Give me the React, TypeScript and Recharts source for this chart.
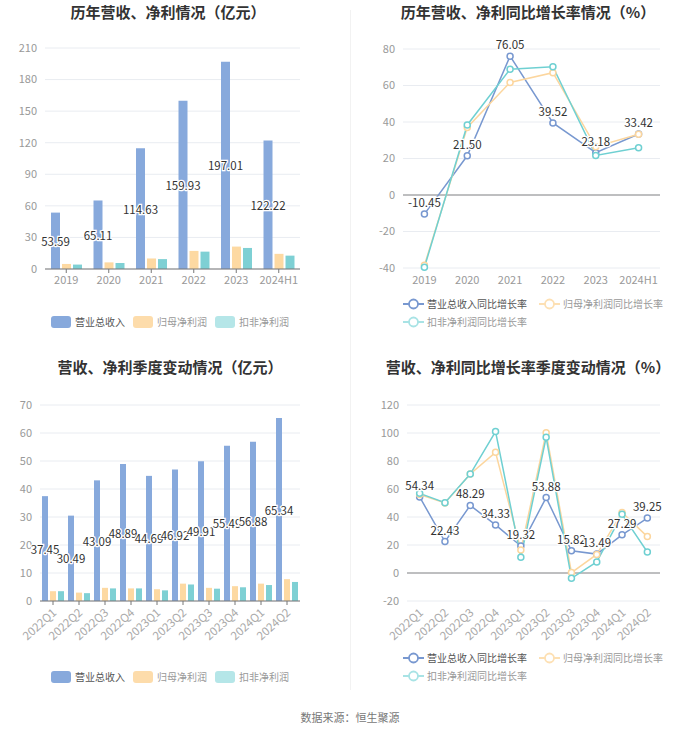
import React from 'react';
import { BarChart, Bar, LineChart, Line, XAxis, YAxis, CartesianGrid, ReferenceLine, LabelList } from 'recharts';

const years = ['2019', '2020', '2021', '2022', '2023', '2024H1'];
const yearRevenue = [53.59, 65.11, 114.63, 159.93, 197.01, 122.22];
const yearNetProfit = [4.8, 6.3, 10.0, 17.2, 21.3, 14.4];
const yearDeductedProfit = [4.2, 5.7, 9.4, 16.5, 20.0, 12.7];
const yearTicks = [0, 30, 60, 90, 120, 150, 180, 210];

const yearRevenueGrowth = [-10.45, 21.5, 76.05, 39.52, 23.18, 33.42];
const yearNetProfitGrowth = [-38.5, 37.0, 61.7, 67.0, 26.5, 33.3];
const yearDeductedGrowth = [-39.6, 38.4, 68.9, 70.3, 21.7, 25.9];
const yearGrowthTicks = [-40, -20, 0, 20, 40, 60, 80];

const quarters = ['2022Q1', '2022Q2', '2022Q3', '2022Q4', '2023Q1', '2023Q2', '2023Q3', '2023Q4', '2024Q1', '2024Q2'];
const qRevenue = [37.45, 30.49, 43.09, 48.89, 44.69, 46.92, 49.91, 55.49, 56.88, 65.34];
const qNetProfit = [3.5, 3.0, 4.7, 4.5, 4.2, 6.2, 4.7, 5.3, 6.2, 7.8];
const qDeductedProfit = [3.5, 2.8, 4.5, 4.5, 3.8, 5.9, 4.4, 4.9, 5.7, 6.8];
const qTicks = [0, 10, 20, 30, 40, 50, 60, 70];

const qRevenueGrowth = [54.34, 22.43, 48.29, 34.33, 19.32, 53.88, 15.82, 13.49, 27.29, 39.25];
const qNetProfitGrowth = [56.0, 50.0, 70.7, 86.2, 16.4, 100.2, 0.3, 13.3, 43.3, 26.0];
const qDeductedGrowth = [56.9, 50.2, 70.7, 101.0, 11.2, 96.9, -3.8, 7.9, 41.9, 15.0];
const qGrowthTicks = [-20, 0, 20, 40, 60, 80, 100, 120];

const barNames = ['营业总收入', '归母净利润', '扣非净利润'];
const lineNames = ['营业总收入同比增长率', '归母净利润同比增长率', '扣非净利润同比增长率'];

const FONT = "'Noto Sans CJK SC', 'Noto Sans', sans-serif";
const BLUE = '#87a9dc';
const ORANGE = '#fdd9a2';
const TEAL = '#7ed0d4';
const LBLUE = '#7898d0';
const LORANGE = '#fcd69e';
const LTEAL = '#6fd0d2';

const yearBars = years.map((c, i) => ({ cat: c, rev: yearRevenue[i], net: yearNetProfit[i], ded: yearDeductedProfit[i] }));
const yearLines = years.map((c, i) => ({ cat: c, rev: yearRevenueGrowth[i], net: yearNetProfitGrowth[i], ded: yearDeductedGrowth[i] }));
const qBars = quarters.map((c, i) => ({ cat: c, rev: qRevenue[i], net: qNetProfit[i], ded: qDeductedProfit[i] }));
const qLines = quarters.map((c, i) => ({ cat: c, rev: qRevenueGrowth[i], net: qNetProfitGrowth[i], ded: qDeductedGrowth[i] }));

const tickStyle = { fill: '#999', fontSize: 11, fontFamily: FONT };

const BarLabel = (props: any) => {
  const { x, y, width, height, value } = props;
  return (
    <text x={x + width / 2} y={y + height / 2} textAnchor="middle" dominantBaseline="central"
      fill="#333" stroke="#fff" strokeWidth={2.5} paintOrder="stroke" fontSize={11.5} fontFamily={FONT}>
      {Number(value).toFixed(2)}
    </text>
  );
};

const PointLabel = (props: any) => {
  const { x, y, value } = props;
  return (
    <text x={x} y={y - 12} textAnchor="middle" dominantBaseline="central"
      fill="#333" stroke="#fff" strokeWidth={2.5} paintOrder="stroke" fontSize={11.5} fontFamily={FONT}>
      {Number(value).toFixed(2)}
    </text>
  );
};

const makeRotTick = (dx: number, dy: number) => (props: any) => {
  const { x, y, payload } = props;
  return (
    <text transform={`translate(${x + dx},${y + dy}) rotate(-42)`} textAnchor="end" dominantBaseline="central"
      fill="#aaa" fontSize={11.5} fontFamily={FONT}>
      {payload.value}
    </text>
  );
};
const BarRotTick = makeRotTick(1, 5);
const LineRotTick = makeRotTick(1, 9);

const Title = ({ text, left, top, width }: any) => (
  <div style={{ position: 'absolute', left, top, width, textAlign: 'center', fontFamily: FONT, fontWeight: 700, fontSize: 15, color: '#333', lineHeight: '20px' }}>{text}</div>
);

const BarLegend = ({ left, top }: any) => {
  const cols = [BLUE, '#fddcab', '#b5e6e8'];
  const tc = ['#555', '#999', '#999'];
  return (
    <div style={{ position: 'absolute', left, top, display: 'flex', alignItems: 'center', fontFamily: FONT, fontSize: 10 }}>
      {barNames.map((n, i) => (
        <div key={n} style={{ display: 'flex', alignItems: 'center', marginRight: 8 }}>
          <div style={{ width: 20, height: 12, borderRadius: 3, background: cols[i], marginRight: 4 }} />
          <span style={{ color: tc[i], lineHeight: '14px' }}>{n}</span>
        </div>
      ))}
    </div>
  );
};

const LegendIcon = ({ color }: any) => (
  <svg width={21} height={14} style={{ marginRight: 3 }}>
    <line x1={0} y1={7} x2={21} y2={7} stroke={color} strokeWidth={2} />
    <circle cx={10.5} cy={7} r={4.5} fill="#fff" stroke={color} strokeWidth={1.8} />
  </svg>
);

const LineLegend = ({ left, top }: any) => {
  const cols = [LBLUE, '#fde0b3', '#a8e3e5'];
  const tc = ['#555', '#999', '#999'];
  const item = (i: number) => (
    <div style={{ display: 'flex', alignItems: 'center', marginRight: 12 }}>
      <LegendIcon color={cols[i]} />
      <span style={{ color: tc[i], lineHeight: '14px' }}>{lineNames[i]}</span>
    </div>
  );
  return (
    <div style={{ position: 'absolute', left, top, fontFamily: FONT, fontSize: 10 }}>
      <div style={{ display: 'flex', alignItems: 'center', height: 18 }}>{item(0)}{item(1)}</div>
      <div style={{ display: 'flex', alignItems: 'center', height: 18 }}>{item(2)}</div>
    </div>
  );
};

const dot = (color: string) => ({ r: 3, fill: '#fff', stroke: color, strokeWidth: 1.5 });

export default function App() {
  return (
    <div style={{ position: 'absolute', left: 0, top: 0, width: 700, height: 734, background: '#fff', overflow: 'hidden' }}>
      <div style={{ position: 'absolute', left: 350, top: 10, width: 1, height: 680, background: '#f2f2f2' }} />

      <Title text="历年营收、净利情况（亿元）" left={0} top={2} width={336} />
      <div style={{ position: 'absolute', left: 0, top: 0 }}>
        <BarChart width={350} height={350} data={yearBars} margin={{ top: 48, right: 50, bottom: 51, left: 0 }} barGap={2}>
          <CartesianGrid vertical={false} stroke="#e9ecf1" />
          <XAxis dataKey="cat" tick={tickStyle} tickLine={{ stroke: '#777' }} tickSize={4} tickMargin={3} axisLine={{ stroke: '#777' }} height={30} interval={0} />
          <YAxis domain={[0, 210]} ticks={yearTicks} tick={tickStyle} tickLine={false} axisLine={false} width={45} />
          <Bar dataKey="rev" fill={BLUE} barSize={9} isAnimationActive={false}>
            <LabelList dataKey="rev" content={BarLabel} />
          </Bar>
          <Bar dataKey="net" fill={ORANGE} barSize={9} isAnimationActive={false} />
          <Bar dataKey="ded" fill={TEAL} barSize={9} isAnimationActive={false} />
        </BarChart>
      </div>
      <BarLegend left={51} top={315} />

      <Title text="历年营收、净利同比增长率情况（%）" left={350} top={2} width={356} />
      <div style={{ position: 'absolute', left: 350, top: 0 }}>
        <LineChart width={350} height={350} data={yearLines} margin={{ top: 49, right: 40, bottom: 52, left: 0 }}>
          <CartesianGrid vertical={false} stroke="#e9ecf1" />
          <XAxis dataKey="cat" scale="band" tick={tickStyle} tickLine={false} axisLine={false} height={30} interval={0} />
          <YAxis domain={[-40, 80]} ticks={yearGrowthTicks} tick={tickStyle} tickLine={false} axisLine={false} width={53} />
          <ReferenceLine y={0} stroke="#888" />
          <Line dataKey="rev" stroke={LBLUE} strokeWidth={1.5} dot={dot(LBLUE)} isAnimationActive={false} />
          <Line dataKey="net" stroke={LORANGE} strokeWidth={1.5} dot={dot(LORANGE)} isAnimationActive={false} />
          <Line dataKey="ded" stroke={LTEAL} strokeWidth={1.5} dot={dot(LTEAL)} isAnimationActive={false} />
          <Line dataKey="rev" stroke="none" dot={false} activeDot={false} isAnimationActive={false}>
            <LabelList dataKey="rev" content={PointLabel} />
          </Line>
        </LineChart>
      </div>
      <LineLegend left={403} top={295} />

      <Title text="营收、净利季度变动情况（亿元）" left={0} top={357} width={340} />
      <div style={{ position: 'absolute', left: 0, top: 350 }}>
        <BarChart width={350} height={350} data={qBars} margin={{ top: 55, right: 50, bottom: 49, left: 0 }} barGap={2}>
          <CartesianGrid vertical={false} stroke="#e9ecf1" />
          <XAxis dataKey="cat" tick={<BarRotTick />} tickLine={{ stroke: '#777' }} axisLine={{ stroke: '#777' }} height={50} interval={0} tickSize={4} tickMargin={0} />
          <YAxis domain={[0, 70]} ticks={qTicks} tick={tickStyle} tickLine={false} axisLine={false} width={40} />
          <Bar dataKey="rev" fill={BLUE} barSize={6} isAnimationActive={false}>
            <LabelList dataKey="rev" content={BarLabel} />
          </Bar>
          <Bar dataKey="net" fill={ORANGE} barSize={6} isAnimationActive={false} />
          <Bar dataKey="ded" fill={TEAL} barSize={6} isAnimationActive={false} />
        </BarChart>
      </div>
      <BarLegend left={51} top={670} />

      <Title text="营收、净利同比增长率季度变动情况（%）" left={350} top={357} width={356} />
      <div style={{ position: 'absolute', left: 350, top: 350 }}>
        <LineChart width={350} height={350} data={qLines} margin={{ top: 55, right: 40, bottom: 49, left: 0 }}>
          <CartesianGrid vertical={false} stroke="#e9ecf1" />
          <XAxis dataKey="cat" scale="band" tick={<LineRotTick />} tickLine={false} axisLine={false} height={50} interval={0} tickSize={0} tickMargin={0} />
          <YAxis domain={[-20, 120]} ticks={qGrowthTicks} tick={tickStyle} tickLine={false} axisLine={false} width={57} />
          <ReferenceLine y={0} stroke="#888" />
          <Line dataKey="rev" stroke={LBLUE} strokeWidth={1.5} dot={dot(LBLUE)} isAnimationActive={false} />
          <Line dataKey="net" stroke={LORANGE} strokeWidth={1.5} dot={dot(LORANGE)} isAnimationActive={false} />
          <Line dataKey="ded" stroke={LTEAL} strokeWidth={1.5} dot={dot(LTEAL)} isAnimationActive={false} />
          <Line dataKey="rev" stroke="none" dot={false} activeDot={false} isAnimationActive={false}>
            <LabelList dataKey="rev" content={PointLabel} />
          </Line>
        </LineChart>
      </div>
      <LineLegend left={403} top={649} />

      <div style={{ position: 'absolute', left: 0, top: 709, width: 700, textAlign: 'center', fontFamily: FONT, fontSize: 11, color: '#777' }}>数据来源：恒生聚源</div>
    </div>
  );
}
